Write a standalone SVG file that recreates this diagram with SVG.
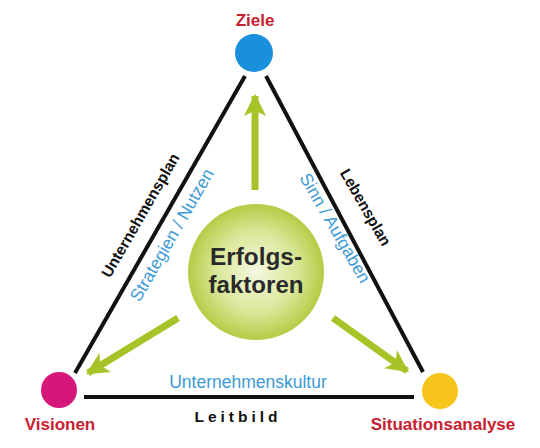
<svg xmlns="http://www.w3.org/2000/svg" width="540" height="448" viewBox="0 0 540 448">
<defs>
<radialGradient id="g" cx="50%" cy="50%" r="50%">
<stop offset="0" stop-color="#f4f8e0"/>
<stop offset="0.6" stop-color="#d9e797"/>
<stop offset="1" stop-color="#b4cc45"/>
</radialGradient>
<marker id="ah" viewBox="0 0 10 10" refX="9" refY="5" markerWidth="3.2" markerHeight="3.2" orient="auto" markerUnits="strokeWidth">
<path d="M0,0 L10,5 L0,10 L2.5,5 Z" fill="#a6c428"/>
</marker>
<style>
.edge{stroke:#111;stroke-width:4;fill:none}
.arr{stroke:#a6c428;stroke-width:7;fill:none;marker-end:url(#ah)}
.lbl{font-family:"Liberation Sans",Arial,sans-serif;font-weight:bold;fill:#c8202e;font-size:17px;text-anchor:middle}
.blk{font-family:"Liberation Sans",Arial,sans-serif;font-weight:bold;fill:#111;font-size:15.5px;text-anchor:middle}
.blu{font-family:"Liberation Sans",Arial,sans-serif;fill:#3d9ad6;font-size:17.5px;text-anchor:middle}
</style>
</defs>
<rect width="540" height="448" fill="#fff"/>
<g id="connectors">
<line class="edge" x1="75" y1="373" x2="245" y2="76"/>
<line class="edge" x1="266" y1="76" x2="423" y2="372"/>
<line class="edge" x1="84" y1="397" x2="414" y2="397"/>
<line class="arr" x1="255" y1="190" x2="255" y2="96"/>
<line class="arr" x1="178" y1="318" x2="88" y2="373"/>
<line class="arr" x1="333" y1="318" x2="407" y2="371"/>
</g>
<g id="ziele">
<circle cx="254" cy="53" r="19" fill="#1a8fdc"/>
<text class="lbl" x="255" y="26">Ziele</text>
</g>
<g id="visionen">
<circle cx="59" cy="390" r="18" fill="#d6177a"/>
<text class="lbl" x="60" y="430">Visionen</text>
</g>
<g id="situationsanalyse">
<circle cx="440" cy="391" r="18" fill="#f7c51c"/>
<text class="lbl" x="443" y="430">Situationsanalyse</text>
</g>
<g id="erfolgsfaktoren">
<circle cx="256" cy="272" r="68" fill="url(#g)"/>
<text x="256" y="265" font-family="Liberation Sans,Arial,sans-serif" font-weight="bold" font-size="23" fill="#2a2a2a" text-anchor="middle" textLength="92" lengthAdjust="spacingAndGlyphs">Erfolgs-</text>
<text x="256" y="293" font-family="Liberation Sans,Arial,sans-serif" font-weight="bold" font-size="23" fill="#2a2a2a" text-anchor="middle" textLength="95" lengthAdjust="spacingAndGlyphs">faktoren</text>
</g>
<g id="edge-labels">
<text class="blk" transform="translate(145,218) rotate(-60)">Unternehmensplan</text>
<text class="blu" transform="translate(177,238) rotate(-60)">Strategien / Nutzen</text>
<text class="blk" transform="translate(361,210) rotate(60)">Lebensplan</text>
<text class="blu" transform="translate(330,231) rotate(60)">Sinn / Aufgaben</text>
<text class="blu" x="248" y="388">Unternehmenskultur</text>
<text class="blk" x="238" y="422" font-size="13" letter-spacing="4">Leitbild</text>
</g>
</svg>
